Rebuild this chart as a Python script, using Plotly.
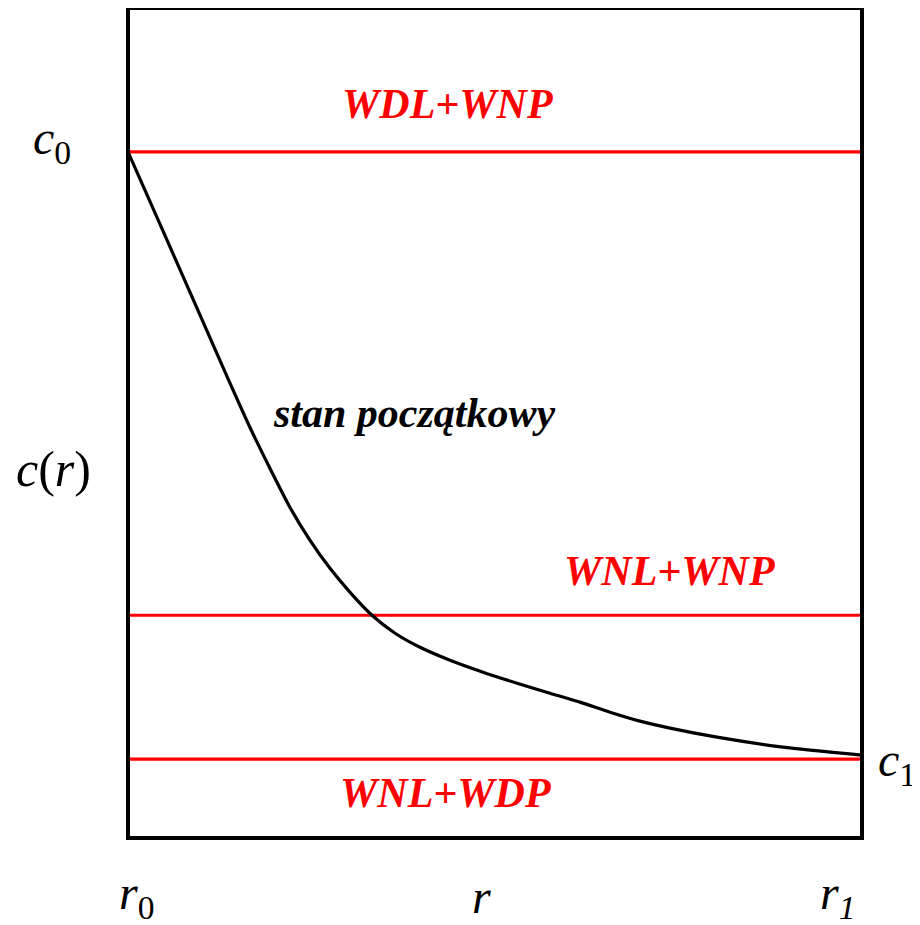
import plotly.graph_objects as go

# Initial profile c(r), normalised: r in [0,1] (r0..r1), c in [0,1] of frame height
r_vals = [0.0, 0.0463, 0.0913, 0.1362, 0.1662, 0.1935, 0.2207, 0.2480, 0.2752,
          0.3025, 0.3324, 0.3638, 0.3978, 0.4387, 0.4837, 0.5300, 0.5749, 0.6158,
          0.6567, 0.6975, 0.7384, 0.8025, 0.8924, 1.0]
c_vals = [0.8267, 0.7341, 0.6438, 0.5535, 0.4946, 0.4452, 0.3983, 0.3586, 0.3249,
          0.2960, 0.2684, 0.2467, 0.2298, 0.2142, 0.1998, 0.1865, 0.1745, 0.1637,
          0.1516, 0.1408, 0.1324, 0.1215, 0.1095, 0.0999]

# Steady-state levels for the boundary condition cases
level_names = ["WDL+WNP", "WNL+WNP", "WNL+WDP"]
level_values = [0.8267, 0.2684, 0.095]

FONT = "Liberation Serif"

fig = go.Figure()
for name, lv in zip(level_names, level_values):
    fig.add_trace(go.Scatter(x=[0, 1], y=[lv, lv], mode="lines",
                             line=dict(color="#ff0000", width=3.2),
                             showlegend=False, hoverinfo="skip"))
fig.add_trace(go.Scatter(x=r_vals, y=c_vals, mode="lines",
                         line=dict(color="black", width=3.2, shape="spline", smoothing=0.6),
                         showlegend=False))

fig.update_xaxes(range=[0, 1], visible=False, fixedrange=True)
fig.update_yaxes(range=[0, 1], visible=False, fixedrange=True)

fig.add_shape(type="rect", xref="paper", yref="paper", x0=0, x1=1, y0=0, y1=1,
              line=dict(color="black", width=4))

red_font = dict(family=FONT, size=42, color="#ff0000")
blk = dict(family=FONT, size=48, color="black")
ann = [
    dict(x=0.435, y=0.884, text="<b><i>WDL+WNP</i></b>", font=red_font),
    dict(x=0.738, y=0.322, text="<b><i>WNL+WNP</i></b>", font=red_font),
    dict(x=0.432, y=0.054, text="<b><i>WNL+WDP</i></b>", font=red_font),
    dict(x=0.390, y=0.512, text="<b><i>stan początkowy</i></b>",
         font=dict(family=FONT, size=42, color="black")),
    dict(x=-0.103, y=0.840, text="<i>c</i><sub>0</sub>", font=blk),
    dict(x=-0.101, y=0.445, text="<i>c</i>(<i>r</i>)",
         font=dict(family=FONT, size=50, color="black")),
    dict(x=1.048, y=0.090, text="<i>c</i><sub>1</sub>", font=blk),
    dict(x=0.012, y=-0.070, text="<i>r</i><sub>0</sub>", font=blk),
    dict(x=0.482, y=-0.070, text="<i>r</i>", font=blk),
    dict(x=0.967, y=-0.070, text="<i>r</i><sub><i>1</i></sub>", font=blk),
]
for a in ann:
    fig.add_annotation(xref="paper", yref="paper", showarrow=False,
                       xanchor="center", yanchor="middle", **a)

fig.update_layout(width=912, height=917,
                  margin=dict(l=120, r=58, t=0, b=87),
                  paper_bgcolor="white", plot_bgcolor="white",
                  font=dict(family=FONT))

fig.write_html("out.html")
